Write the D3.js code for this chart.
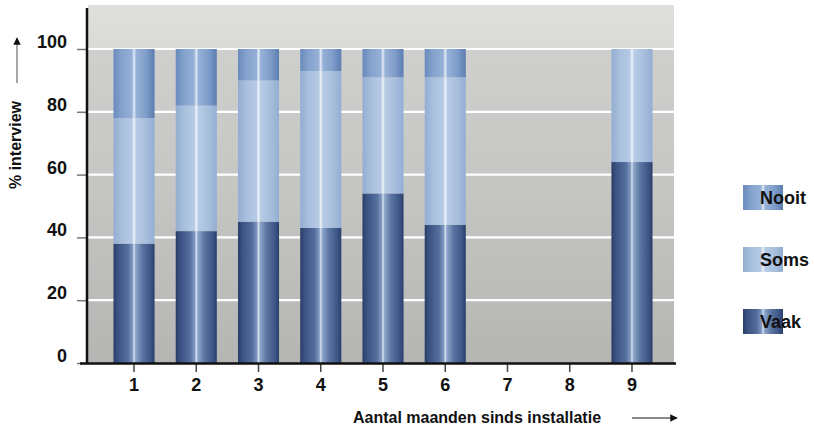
<!DOCTYPE html>
<html>
<head>
<meta charset="utf-8">
<script src="https://cdn.jsdelivr.net/npm/d3@7"></script>
<style>
  html, body { margin: 0; padding: 0; background: #ffffff; }
  svg { display: block; }
  text { font-family: "Liberation Sans", Arial, sans-serif; fill: #111; }
</style>
</head>
<body>
<svg id="chart" width="814" height="429"></svg>
<script>
// Months since installation (7 and 8 have no interviews)
const months = ["1", "2", "3", "4", "5", "6", "7", "8", "9"];
// Share of respondents per answer, in %
const vaak  = [38, 42, 45, 43, 54, 44, null, null, 64];
const soms  = [40, 40, 45, 50, 37, 47, null, null, 36];
const nooit = [22, 18, 10,  7,  9,  9, null, null,  0];
const yTicks = [0, 20, 40, 60, 80, 100];
const seriesNames = ["Vaak", "Soms", "Nooit"];
const legendOrder = ["Nooit", "Soms", "Vaak"];

const svg = d3.select("#chart");
const plot = { left: 88, right: 674, top: 5, bottom: 363 };

const x = d3.scaleBand()
  .domain(months)
  .range([102.9, 663.1])
  .paddingInner(0.34)
  .paddingOuter(0.17);

const y = d3.scaleLinear().domain([0, 100]).range([plot.bottom, 49]);

const defs = svg.append("defs");

// Background: light at the top, darker toward the baseline
const bg = defs.append("linearGradient").attr("id", "bg")
  .attr("x1", 0).attr("y1", 0).attr("x2", 0).attr("y2", 1);
[[0, "#dfdfdd"], [0.12, "#dadad8"], [0.125, "#cfcfcd"], [0.5, "#c6c6c4"], [1, "#b5b5b4"]]
  .forEach(([o, c]) => bg.append("stop").attr("offset", o).attr("stop-color", c));

// Cylinder shading for each answer
const shades = {
  Vaak: [[0, "#2a3d64"], [0.1, "#3a5182"], [0.35, "#546e9d"], [0.46, "#7f98bf"], [0.5, "#d6e1f0"],
         [0.54, "#8ca5ca"], [0.7, "#5a75a1"], [0.9, "#3e5687"], [1, "#2a3e68"]],
  Soms: [[0, "#93aed2"], [0.2, "#a8bfdd"], [0.45, "#b6cae4"], [0.5, "#eef3fa"], [0.55, "#b8cce5"],
         [0.8, "#a7bedc"], [1, "#93aed3"]],
  Nooit: [[0, "#6a8bbd"], [0.2, "#84a2cd"], [0.45, "#96b0d6"], [0.5, "#e4ecf7"], [0.55, "#98b2d7"],
          [0.8, "#7e9cc9"], [1, "#5c7db1"]]
};
Object.entries(shades).forEach(([name, stops]) => {
  const g = defs.append("linearGradient").attr("id", "g-" + name)
    .attr("x1", 0).attr("y1", 0).attr("x2", 1).attr("y2", 0);
  stops.forEach(([o, c]) => g.append("stop").attr("offset", o).attr("stop-color", c));
});

// Plot background
svg.append("rect")
  .attr("x", plot.left).attr("y", plot.top)
  .attr("width", plot.right - plot.left).attr("height", plot.bottom - plot.top)
  .attr("fill", "url(#bg)");

// Gridlines
svg.append("g").selectAll("line")
  .data(yTicks.filter(d => d > 0))
  .join("line")
  .attr("x1", plot.left).attr("x2", plot.right)
  .attr("y1", d => y(d)).attr("y2", d => y(d))
  .attr("stroke", "#ffffff").attr("stroke-width", 2.2);

// Stacked bars
const rows = months.map((m, i) => ({ month: m, Vaak: vaak[i], Soms: soms[i], Nooit: nooit[i] }))
  .filter(r => r.Vaak !== null);
const stack = d3.stack().keys(seriesNames)(rows);

svg.append("g").selectAll("g")
  .data(stack)
  .join("g")
  .attr("fill", s => "url(#g-" + s.key + ")")
  .selectAll("rect")
  .data(s => s.filter(d => d[1] > d[0]))
  .join("rect")
  .attr("x", d => x(d.data.month))
  .attr("width", x.bandwidth())
  .attr("y", d => y(d[1]))
  .attr("height", d => y(d[0]) - y(d[1]));

// Y axis
const yAxis = svg.append("g").attr("transform", `translate(${plot.left},0)`)
  .call(d3.axisLeft(y).tickValues(yTicks).tickSize(11).tickPadding(10));
yAxis.select(".domain").remove();
yAxis.selectAll(".tick line").attr("stroke", "#777").attr("stroke-width", 1.5);
yAxis.selectAll(".tick text")
  .attr("font-size", 18).attr("font-weight", "bold").attr("dy", "-0.08em")
  .attr("fill", "#111");
svg.append("line")
  .attr("x1", plot.left - 1).attr("x2", plot.left - 1)
  .attr("y1", 8).attr("y2", plot.bottom + 1)
  .attr("stroke", "#111").attr("stroke-width", 2.5);

// X axis
const xAxis = svg.append("g").attr("transform", `translate(0,${plot.bottom})`)
  .call(d3.axisBottom(x).tickSize(9).tickPadding(6));
xAxis.select(".domain").remove();
xAxis.selectAll(".tick line").attr("stroke", "#444").attr("stroke-width", 1.5);
xAxis.selectAll(".tick text")
  .attr("font-size", 18).attr("font-weight", "bold").attr("fill", "#111");
svg.append("line")
  .attr("x1", 80).attr("x2", 676)
  .attr("y1", plot.bottom + 0.5).attr("y2", plot.bottom + 0.5)
  .attr("stroke", "#111").attr("stroke-width", 2.5);

// Axis titles with arrows
svg.append("defs").append("marker")
  .attr("id", "head").attr("viewBox", "0 0 10 10")
  .attr("refX", 9).attr("refY", 5)
  .attr("markerWidth", 6).attr("markerHeight", 5)
  .attr("orient", "auto")
  .append("path").attr("d", "M0,0 L10,5 L0,10 Z").attr("fill", "#111");

svg.append("text")
  .attr("transform", "translate(21,145) rotate(-90)")
  .attr("text-anchor", "middle")
  .attr("font-size", 16).attr("font-weight", "bold")
  .text("% interview");
svg.append("line")
  .attr("x1", 17).attr("x2", 17).attr("y1", 83).attr("y2", 38)
  .attr("stroke", "#888").attr("stroke-width", 1.5)
  .attr("marker-end", "url(#head)");

svg.append("text")
  .attr("x", 477).attr("y", 423)
  .attr("text-anchor", "middle")
  .attr("font-size", 16).attr("font-weight", "bold")
  .text("Aantal maanden sinds installatie");
svg.append("line")
  .attr("x1", 632).attr("x2", 677).attr("y1", 418).attr("y2", 418)
  .attr("stroke", "#666").attr("stroke-width", 1.5)
  .attr("marker-end", "url(#head)");

// Legend: swatch with the label overlapping its right half
const legendY = d3.scalePoint().domain(legendOrder).range([185, 309]);
const legend = svg.append("g").selectAll("g")
  .data(legendOrder)
  .join("g")
  .attr("transform", d => `translate(743,${legendY(d)})`);
legend.append("rect")
  .attr("width", 40).attr("height", 25)
  .attr("fill", d => "url(#g-" + d + ")");
legend.append("text")
  .attr("x", 17).attr("y", 19)
  .attr("font-size", 18).attr("font-weight", "bold")
  .text(d => d);
</script>
</body>
</html>
